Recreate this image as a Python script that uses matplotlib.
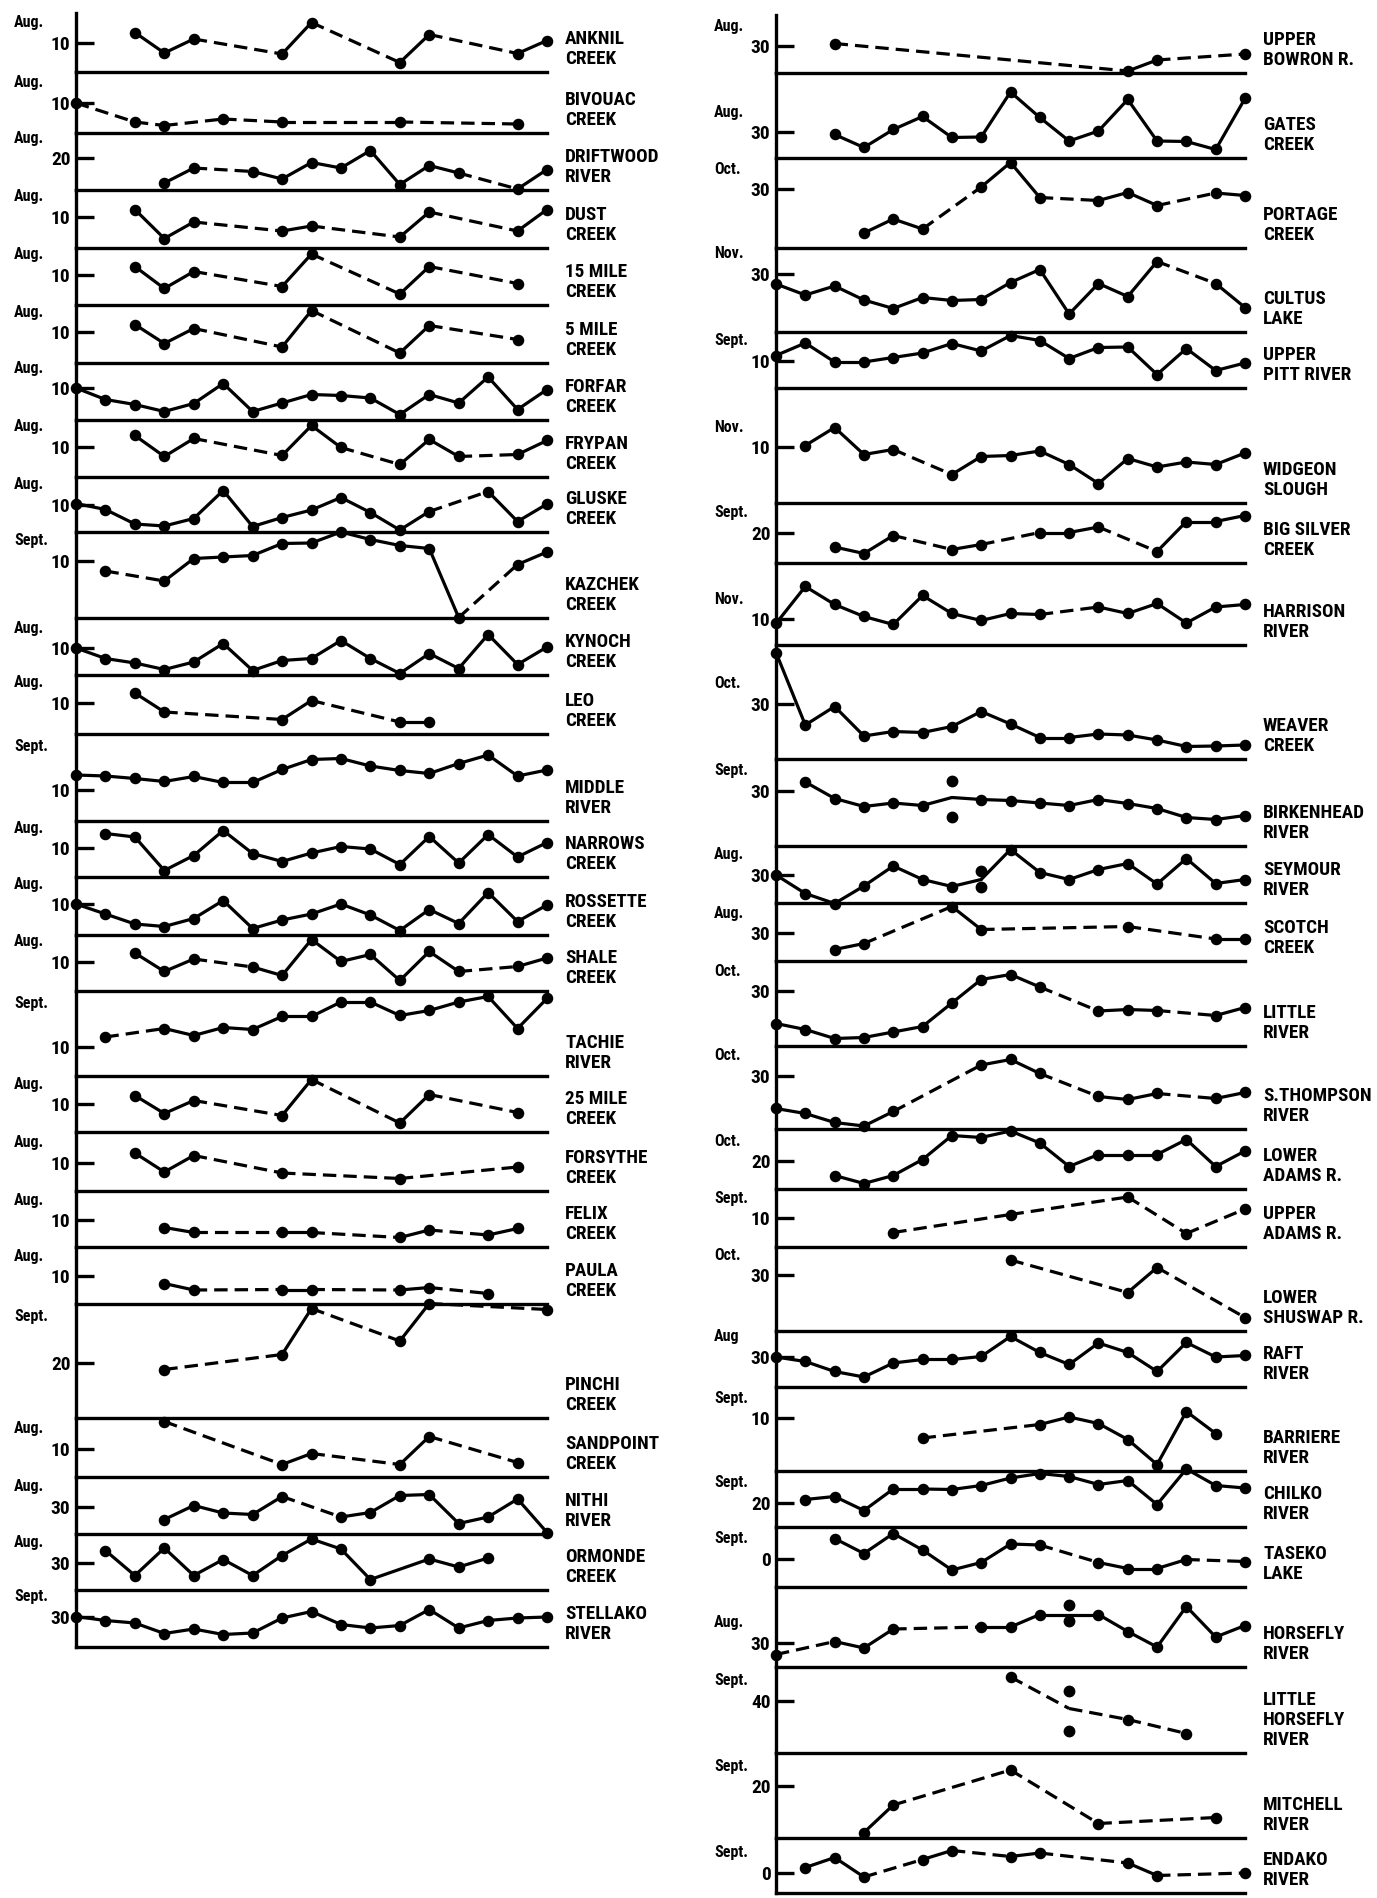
import numpy as np
import matplotlib
matplotlib.use("Agg")
import matplotlib.pyplot as plt
from matplotlib import font_manager

N = None

# spawning dates (day of the labelled month), 17 yearly positions per stream
# ---- left column ----
anknil = [N, N, 7.9, 12.0, 9.2, N, N, 12.2, 5.9, N, N, 13.9, 8.3, N, N, 12.1, 9.5]
bivouac = [10.0, N, 13.8, 14.5, N, 13.2, N, 13.8, N, N, N, 13.8, N, N, N, 14.2, N]
driftwood = [N, N, N, 25.0, 22.0, N, 22.7, 24.2, 20.9, 22.0, 18.5, 25.3, 21.5, 23.0, N, 26.2, 22.3]
dust = [N, N, 8.5, 14.3, 11.0, N, N, 12.8, 11.8, N, N, 14.0, 9.0, N, N, 12.8, 8.5]
mile15 = [N, N, 8.3, 12.7, 9.3, N, N, 12.3, 5.8, N, N, 13.8, 8.3, N, N, 11.7, N]
mile5 = [N, N, 8.5, 12.3, 9.3, N, N, 13.0, 5.7, N, N, 14.2, 8.7, N, N, 11.5, N]
forfar = [10.0, 12.3, 13.3, 14.7, 13.1, 9.1, 14.7, 13.0, 11.3, 11.5, 12.0, 15.3, 11.3, 13.0, 7.8, 14.3, 10.3]
frypan = [N, N, 7.7, 11.9, 8.3, N, N, 11.7, 5.7, 10.1, N, 13.5, 8.5, 11.9, N, 11.5, 8.7]
gluske = [9.7, 10.9, 13.8, 14.2, 12.7, 7.1, 14.3, 12.5, 11.0, 8.5, 11.5, 15.0, 11.3, N, 7.3, 13.3, 9.8]
kazchek = [N, 12.0, N, 14.0, 9.5, 9.2, 8.9, 6.5, 6.4, 4.2, 5.7, 6.9, 7.5, 21.3, N, 10.7, 8.2]
kynoch = [10.0, 12.1, 13.0, 14.3, 12.8, 9.1, 14.5, 12.5, 12.1, 8.5, 12.1, 15.1, 11.1, 14.1, 7.3, 13.3, 9.8]
leo = [N, N, 8.0, 11.8, N, N, N, 13.3, 9.5, N, N, 13.8, 13.8, N, N, N, N]
middle = [7.0, 7.2, 7.7, 8.3, 7.3, 8.5, 8.5, 5.9, 3.9, 3.7, 5.2, 6.1, 6.7, 4.7, 3.0, 7.2, 6.0]
narrows = [N, 7.1, 7.8, 14.5, 11.5, 6.5, 11.1, 12.7, 11.0, 9.7, 10.2, 13.3, 7.7, 13.0, 7.3, 11.8, 8.9]
rossette = [10.0, 12.0, 14.0, 14.5, 12.9, 9.3, 14.9, 13.2, 12.0, 10.0, 12.2, 15.3, 11.1, 13.9, 7.7, 13.5, 10.2]
shale = [N, N, 8.2, 11.9, 9.4, N, 11.0, 12.7, 5.5, 9.9, 8.5, 13.7, 7.9, 11.9, N, 10.9, 9.2]
tachie = [N, 8.0, N, 6.3, 7.7, 6.1, 6.5, 3.9, 3.9, 1.0, 1.0, 3.7, 2.7, 1.0, -0.1, 6.3, 0.3]
mile25 = [N, N, 8.3, 11.9, 9.3, N, N, 12.3, 5.1, N, N, 13.8, 8.1, N, N, 11.7, N]
forsythe = [N, N, 8.0, 11.8, 8.5, N, N, 12.0, N, N, N, 13.1, N, N, N, 10.8, N]
felix = [N, N, N, 11.5, 12.5, N, N, 12.5, 12.5, N, N, 13.5, 12.0, N, 13.0, 11.7, N]
paula = [N, N, N, 11.5, 12.8, N, N, 12.7, 12.7, N, N, 12.8, 12.3, N, 13.5, N, N]
pinchi = [N, N, N, 21.3, N, N, N, 18.3, 9.1, N, N, 15.6, 8.1, N, N, N, 9.3]
sandpoint = [N, N, N, 4.5, N, N, N, 13.1, 10.9, N, N, 13.1, 7.5, N, N, 12.7, N]
nithi = [N, N, N, 32.5, 29.7, 31.2, 31.5, 27.9, N, 32.0, 31.1, 27.7, 27.5, 33.3, 32.0, 28.4, 35.1]
ormonde = [N, 27.5, 32.5, 27.0, 32.5, 29.3, 32.5, 28.5, 25.2, 27.2, 33.3, N, 29.2, 30.8, 29.0, N, N]
stellako = [29.9, 30.7, 31.2, 33.3, 32.4, 33.5, 33.2, 30.2, 28.9, 31.5, 32.2, 31.7, 28.5, 32.2, 30.7, 30.2, 30.0]

left_names = ["ANKNIL\nCREEK", "BIVOUAC\nCREEK", "DRIFTWOOD\nRIVER", "DUST\nCREEK",
              "15 MILE\nCREEK", "5 MILE\nCREEK", "FORFAR\nCREEK", "FRYPAN\nCREEK",
              "GLUSKE\nCREEK", "KAZCHEK\nCREEK", "KYNOCH\nCREEK", "LEO\nCREEK",
              "MIDDLE\nRIVER", "NARROWS\nCREEK", "ROSSETTE\nCREEK", "SHALE\nCREEK",
              "TACHIE\nRIVER", "25 MILE\nCREEK", "FORSYTHE\nCREEK", "FELIX\nCREEK",
              "PAULA\nCREEK", "PINCHI\nCREEK", "SANDPOINT\nCREEK", "NITHI\nRIVER",
              "ORMONDE\nCREEK", "STELLAKO\nRIVER"]
left_months = ["Aug."] * 9 + ["Sept.", "Aug.", "Aug.", "Sept.", "Aug.", "Aug.", "Aug.",
                              "Sept.", "Aug.", "Aug.", "Aug.", "Aug.", "Sept.", "Aug.",
                              "Aug.", "Aug.", "Sept."]
left_ticks = [10, 10, 20, 10, 10, 10, 10, 10, 10, 10, 10, 10, 10, 10, 10, 10,
              10, 10, 10, 10, 10, 20, 10, 30, 30, 30]
left_values = [anknil, bivouac, driftwood, dust, mile15, mile5, forfar, frypan,
               gluske, kazchek, kynoch, leo, middle, narrows, rossette, shale,
               tachie, mile25, forsythe, felix, paula, pinchi, sandpoint, nithi,
               ormonde, stellako]

# ---- right column ----
upper_bowron = [N, N, 29.5, N, N, N, N, N, N, N, N, N, 35.0, 32.8, N, N, 31.6]
gates = [N, N, 30.5, 33.1, 29.5, 26.9, 31.1, 31.0, 22.0, 27.1, 31.8, 29.8, 23.5, 31.8, 31.9, 33.5, 23.3]
portage = [N, N, N, 38.8, 36.0, 38.0, N, 29.6, 24.7, 31.7, N, 32.3, 30.7, 33.3, N, 30.8, 31.3]
cultus = [32.0, 34.2, 32.4, 35.2, 36.9, 34.7, 35.3, 35.1, 31.7, 29.1, 38.0, 31.9, 34.5, 27.5, N, 31.9, 36.7]
upper_pitt = [8.9, 6.4, 10.2, 10.2, 9.3, 8.4, 6.5, 8.0, 4.9, 5.9, 9.5, 7.3, 7.2, 12.7, 7.5, 11.9, 10.4]
widgeon = [N, 9.7, 6.1, 11.5, 10.5, N, 15.5, 11.9, 11.7, 10.8, 13.5, 17.3, 12.3, 14.0, 13.0, 13.5, 11.2]
big_silver = [N, N, 22.8, 24.1, 20.5, N, 23.3, 22.3, N, 19.9, 19.9, 18.8, N, 23.7, 17.7, 17.7, 16.5]
harrison = [10.9, 3.5, 7.1, 9.5, 11.1, 5.3, 8.9, 10.3, 8.9, 9.1, N, 7.6, 8.9, 6.9, 10.8, 7.6, 7.1]
weaver = [19.7, 34.2, 30.5, 36.4, 35.5, 35.7, 34.5, 31.5, 34.0, 36.7, 36.7, 36.0, 36.2, 37.2, 38.5, 38.4, 38.2]
birkenhead = [N, 28.2, 31.5, 33.1, 32.4, 32.9, 31.3, 31.7, 31.9, 32.4, 32.9, 31.7, 32.5, 33.5, 35.3, 35.7, 34.9]
seymour = [30.0, 33.7, 35.7, 32.2, 28.2, 30.9, 32.3, 30.9, 24.9, 29.5, 30.9, 28.9, 27.7, 31.8, 26.7, 31.7, 30.9]
scotch = [N, N, 33.3, 32.1, N, N, 24.7, 29.3, N, N, N, N, 28.7, N, N, 31.2, 31.2]
little_river = [36.5, 37.7, 39.5, 39.3, 38.2, 37.1, 32.4, 27.7, 26.7, 29.2, N, 34.0, 33.7, 33.9, N, 34.9, 33.3]
s_thompson = [36.5, 37.5, 39.3, 40.0, 37.1, N, N, 27.8, 26.7, 29.5, N, 34.1, 34.7, 33.5, N, 34.5, 33.3]
lower_adams = [N, N, 22.9, 24.5, 22.9, 19.7, 14.9, 15.3, 14.0, 16.4, 21.1, 18.7, 18.7, 18.7, 15.7, 21.1, 18.0]
upper_adams = [N, N, N, N, 12.9, N, N, N, 9.3, N, N, N, 5.8, N, 13.1, N, 8.2]
lower_shuswap = [N, N, N, N, N, N, N, N, 27.0, N, N, N, 33.5, 28.5, N, N, 38.5]
raft = [30.0, 30.9, 32.9, 34.0, 31.2, 30.5, 30.5, 29.9, 25.9, 29.1, 31.5, 27.2, 29.1, 32.9, 27.1, 30.0, 29.7]
barriere = [N, N, N, N, N, 14.0, N, N, N, 11.3, 9.8, 11.1, 14.3, 19.3, 8.7, 13.1, N]
chilko = [N, 19.3, 18.7, 21.5, 17.2, 17.2, 17.3, 16.5, 15.0, 14.1, 14.7, 16.3, 15.5, 20.3, 13.2, 16.5, 17.0]
taseko = [N, N, -4.1, -1.1, -5.1, -1.8, 2.2, 0.7, -3.0, -2.8, N, 0.7, 1.9, 1.9, 0.1, N, 0.5]
horsefly = [32.3, N, 29.7, 31.0, 27.2, N, N, 26.8, 26.8, 24.3, 24.3, 24.3, 27.7, 30.8, 22.7, 28.8, 26.5]
little_horsefly = [N, N, N, N, N, N, N, N, 35.2, N, 41.5, N, 43.7, N, 46.5, N, N]
mitchell = [N, N, N, 29.3, 23.8, N, N, N, 16.8, N, N, 27.5, N, N, N, 26.3, N]
endako = [N, -1.1, -3.1, 0.8, N, -2.7, -4.5, N, -3.3, -4.0, N, N, -2.0, 0.5, N, N, 0.0]

right_names = ["UPPER\nBOWRON R.", "GATES\nCREEK", "PORTAGE\nCREEK", "CULTUS\nLAKE",
               "UPPER\nPITT RIVER", "WIDGEON\nSLOUGH", "BIG SILVER\nCREEK", "HARRISON\nRIVER",
               "WEAVER\nCREEK", "BIRKENHEAD\nRIVER", "SEYMOUR\nRIVER", "SCOTCH\nCREEK",
               "LITTLE\nRIVER", "S.THOMPSON\nRIVER", "LOWER\nADAMS R.", "UPPER\nADAMS R.",
               "LOWER\nSHUSWAP R.", "RAFT\nRIVER", "BARRIERE\nRIVER", "CHILKO\nRIVER",
               "TASEKO\nLAKE", "HORSEFLY\nRIVER", "LITTLE\nHORSEFLY\nRIVER", "MITCHELL\nRIVER",
               "ENDAKO\nRIVER"]
right_months = ["Aug.", "Aug.", "Oct.", "Nov.", "Sept.", "Nov.", "Sept.", "Nov.", "Oct.",
                "Sept.", "Aug.", "Aug.", "Oct.", "Oct.", "Oct.", "Sept.", "Oct.", "Aug",
                "Sept.", "Sept.", "Sept.", "Aug.", "Sept.", "Sept.", "Sept."]
right_ticks = [30, 30, 30, 30, 10, 10, 20, 10, 30, 30, 30, 30, 30, 30, 20, 10, 30, 30,
               10, 20, 0, 30, 40, 20, 0]
right_values = [upper_bowron, gates, portage, cultus, upper_pitt, widgeon, big_silver,
                harrison, weaver, birkenhead, seymour, scotch, little_river, s_thompson,
                lower_adams, upper_adams, lower_shuswap, raft, barriere, chilko, taseko,
                horsefly, little_horsefly, mitchell, endako]

# single observations drawn beside the connected value (year index -> dates)
extra_points = {"BIRKENHEAD\nRIVER": (6, [28.0, 35.1]),
                "SEYMOUR\nRIVER": (7, [29.1, 32.3]),
                "HORSEFLY\nRIVER": (10, [22.3, 25.6]),
                "LITTLE\nHORSEFLY\nRIVER": (10, [38.0, 45.9])}
# joins drawn against the usual rule (dashed across missing years)
flipped_joins = {"BIVOUAC\nCREEK": [(2, 3)], "ORMONDE\nCREEK": [(10, 12)]}

# ---- layout (pixels of the 1377 x 1898 page) ----
W, H = 1377, 1898
PX_PER_DAY = 5.0
left_edges = [13, 72, 133, 190, 248, 305, 363, 420, 477, 532, 618, 675, 734, 821,
              877, 935, 991, 1076, 1132, 1191, 1247, 1304, 1418, 1477, 1534, 1590, 1647]
left_tick_px = [43, 103, 158, 217, 275, 332, 388, 447, 505, 561, 648, 703, 790, 848,
                904, 962, 1047, 1104, 1163, 1220, 1276, 1363, 1449, 1507, 1563, 1617]
right_edges = [15, 73, 158, 248, 332, 388, 503, 563, 645, 759, 846, 903, 961, 1046,
               1129, 1189, 1247, 1331, 1387, 1471, 1527, 1587, 1667, 1753, 1838, 1893]
right_tick_px = [46, 132, 189, 274, 361, 447, 533, 619, 704, 791, 875, 933, 991, 1076,
                 1161, 1218, 1275, 1357, 1418, 1503, 1559, 1643, 1701, 1786, 1873]
month_high = {"MIDDLE\nRIVER", "TACHIE\nRIVER", "PINCHI\nCREEK"}

available = {f.name for f in font_manager.fontManager.ttflist}
FONT = "DejaVu Sans"
for cand in ["Liberation Sans Narrow", "Roboto Condensed", "DejaVu Sans Condensed",
             "Open Sans Condensed"]:
    if cand in available:
        FONT = cand
        break
k = 1.0 if FONT != "DejaVu Sans" else 0.72
NAME_SIZE, NUM_SIZE, MONTH_SIZE = 13.8 * k, 14 * k, 11.5 * k

LW = 2.3
DASH = (0, (4.2, 2.2))

fig = plt.figure(figsize=(W / 100, H / 100), dpi=100)
fig.patch.set_facecolor("white")


def draw_column(axis_x, end_x, names, months, ticks, values, edges, tick_px):
    for i, name in enumerate(names):
        top, bot = edges[i], edges[i + 1]
        ax = fig.add_axes([axis_x / W, 1 - bot / H, (end_x - axis_x) / W, (bot - top) / H])
        ax.set_facecolor("none")
        t = ticks[i]
        ax.set_xlim(0, 16)
        ax.set_ylim(t + (bot - tick_px[i]) / PX_PER_DAY, t - (tick_px[i] - top) / PX_PER_DAY)
        for s in ["top", "right"]:
            ax.spines[s].set_visible(False)
        for s in ["left", "bottom"]:
            ax.spines[s].set_linewidth(2.4)
            ax.spines[s].set_capstyle("projecting")
        ax.set_xticks([])
        ax.set_yticks([t])
        ax.set_yticklabels([str(t)], fontfamily=FONT, fontweight="bold", fontsize=NUM_SIZE)
        ax.tick_params(axis="y", direction="in", length=13, width=2.4, pad=4)

        # month label above the day number
        if name in month_high:
            ax.annotate(months[i], xy=(0, 1), xycoords="axes fraction",
                        xytext=(-62, -13), textcoords="offset pixels",
                        ha="left", va="center", fontfamily=FONT, fontweight="bold",
                        fontsize=MONTH_SIZE)
        else:
            ax.annotate(months[i], xy=(0, t), xycoords=("axes fraction", "data"),
                        xytext=(-62, 20), textcoords="offset pixels",
                        ha="left", va="center", fontfamily=FONT, fontweight="bold",
                        fontsize=MONTH_SIZE)

        # stream name to the right of the strip
        ax.annotate(name, xy=(1, 0), xycoords="axes fraction", xytext=(18, 4),
                    textcoords="offset pixels", ha="left", va="bottom",
                    fontfamily=FONT, fontweight="bold", fontsize=NAME_SIZE,
                    linespacing=1.15)

        vals = values[i]
        pts = [(x, v) for x, v in enumerate(vals) if v is not None]
        flips = flipped_joins.get(name, [])
        for (x0, y0), (x1, y1) in zip(pts[:-1], pts[1:]):
            dashed = (x1 - x0) > 1
            if (x0, x1) in flips:
                dashed = not dashed
            ax.plot([x0, x1], [y0, y1], color="black", lw=LW,
                    linestyle=DASH if dashed else "-", clip_on=False,
                    solid_capstyle="round", dash_capstyle="butt")
        skip = None
        if name in extra_points:
            skip, ex = extra_points[name]
            ax.plot([skip] * len(ex), ex, "o", color="black", ms=7.5, clip_on=False)
        mx = [x for x, v in pts if x != skip]
        my = [v for x, v in pts if x != skip]
        ax.plot(mx, my, "o", color="black", ms=7.3, clip_on=False)


draw_column(76, 547, left_names, left_months, left_ticks, left_values,
            left_edges, left_tick_px)
draw_column(776, 1245, right_names, right_months, right_ticks, right_values,
            right_edges, right_tick_px)

fig.savefig("out.png", dpi=100, facecolor="white")
